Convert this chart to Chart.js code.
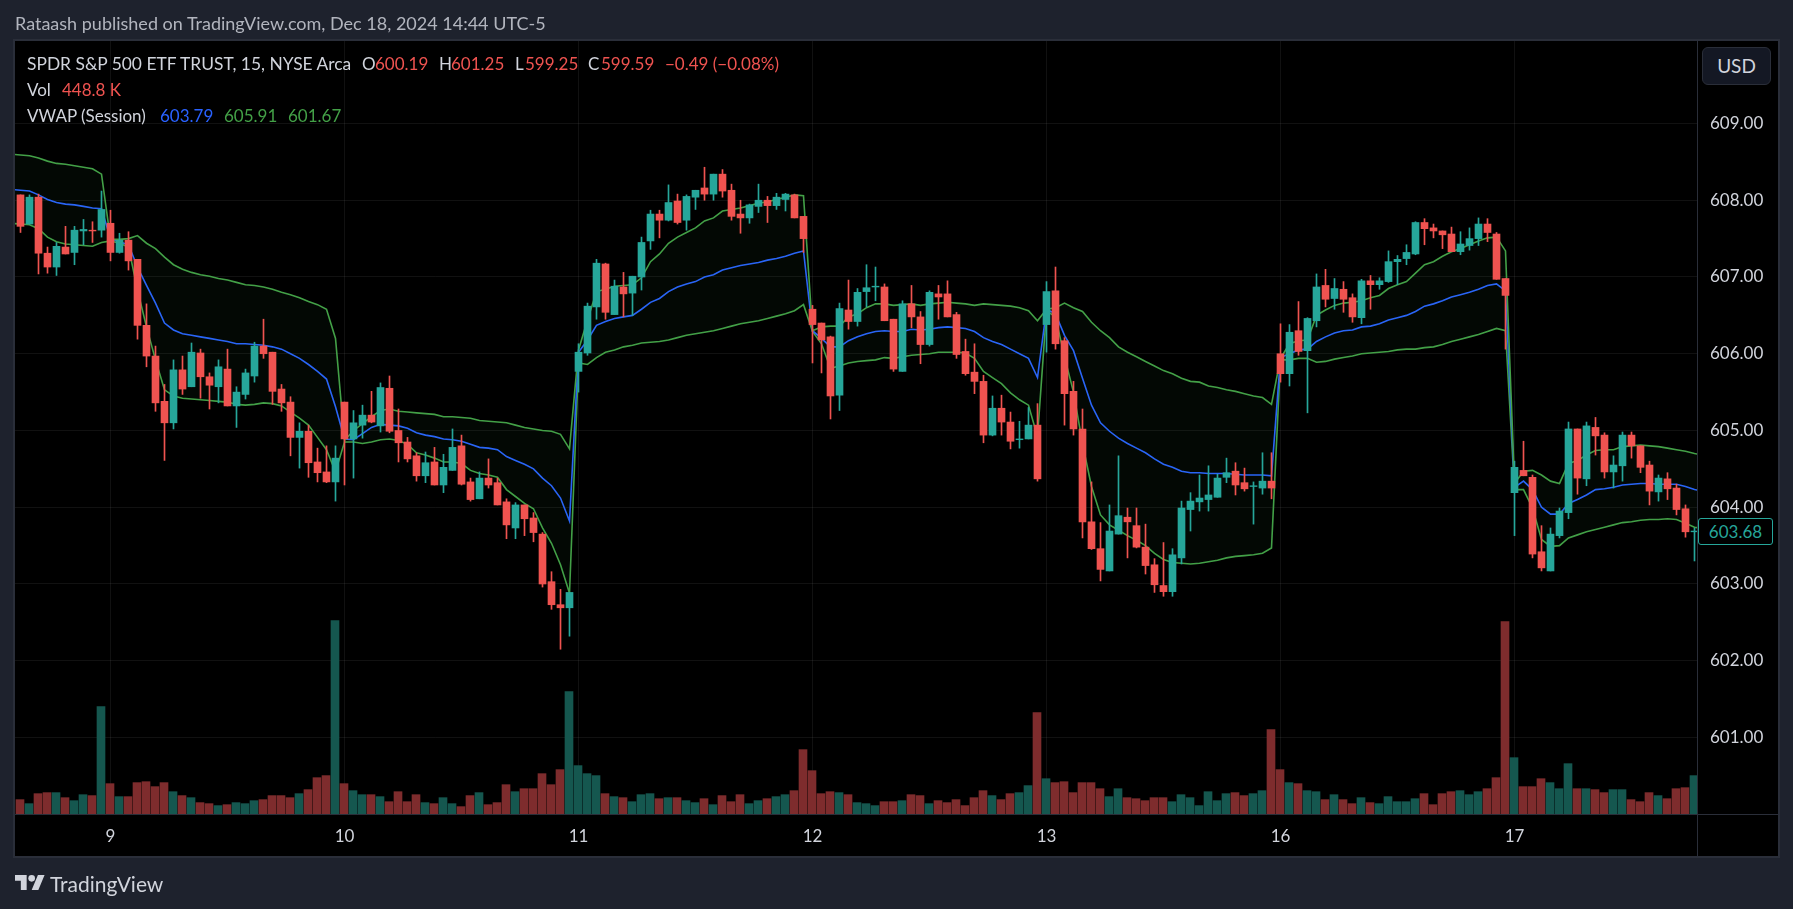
<!DOCTYPE html>
<html>
<head>
<meta charset="utf-8">
<title>SPY 15m</title>
<script src="https://cdn.jsdelivr.net/npm/chart.js@4"></script>
<style>
    html, body { margin: 0; padding: 0; background: #1e222d; overflow: hidden; }
    #wrap { position: relative; width: 1793px; height: 909px; font-family: Lato, sans-serif; color: #d1d4dc; }
    #priceChart { position: absolute; left: 0; top: 0; }
    .t { position: absolute; white-space: pre; font-size: 17px; line-height: 20px; }
    .red { color: #ef5350; }
    .blue { color: #2962ff; }
    .green { color: #43a047; }
    #usd { position: absolute; left: 1702px; top: 47px; width: 67px; height: 36px; line-height: 36px; text-align: center;
        background: #141824; border: 1px solid #2a2e39; border-radius: 6px; font-size: 19px; }
    #last { position: absolute; left: 1698px; top: 518px; width: 73px; height: 25px; line-height: 25px; text-align: center;
        background: #000; border: 1px solid #26a69a; border-radius: 3px; color: #26a69a; font-size: 17px; }
</style>
</head>
<body>
<div id="wrap">
    <canvas id="priceChart" width="1793" height="909"></canvas>

    <div class="t" style="left:15px;top:13px;color:#b2b5be;font-size:18px">Rataash published on TradingView.com, Dec 18, 2024 14:44 UTC-5</div>

    <div class="t" style="left:27px;top:54px;font-size:17.4px">SPDR S&amp;P 500 ETF TRUST, 15, NYSE Arca</div>
    <div class="t" style="left:362px;top:54px">O</div><div class="t red" style="left:375px;top:54px">600.19</div>
    <div class="t" style="left:439px;top:54px">H</div><div class="t red" style="left:451px;top:54px">601.25</div>
    <div class="t" style="left:515px;top:54px">L</div><div class="t red" style="left:525px;top:54px">599.25</div>
    <div class="t" style="left:588px;top:54px">C</div><div class="t red" style="left:601px;top:54px">599.59</div>
    <div class="t red" style="left:665px;top:54px">−0.49 (−0.08%)</div>

    <div class="t" style="left:27px;top:80px">Vol</div>
    <div class="t red" style="left:62px;top:80px">448.8 K</div>

    <div class="t" style="left:27px;top:106px">VWAP (Session)</div>
    <div class="t blue" style="left:160px;top:106px">603.79</div>
    <div class="t green" style="left:224px;top:106px">605.91</div>
    <div class="t green" style="left:288px;top:106px">601.67</div>

    <div id="usd">USD</div>
    <div id="last">603.68</div>

    <svg style="position:absolute;left:15px;top:873px" width="30" height="19" viewBox="0 4 36 18">
        <path fill="#d1d4dc" d="M14 22H7V11H0V4h14v18zM28 22h-8l7.5-18h8L28 22z"/>
        <circle fill="#d1d4dc" cx="20" cy="8" r="4"/>
    </svg>
    <div class="t" style="left:50px;top:872px;font-size:21px;line-height:24px">TradingView</div>
</div>

<script>
// Session starts on the time axis
const dayLabels = ['9', '10', '11', '12', '13', '16', '17'];
const dayStarts = [10, 36, 62, 88, 114, 140, 166];
const priceTicks = [601, 602, 603, 604, 605, 606, 607, 608, 609];

const opens = [
    608.07,607.69,608.04,607.31,607.13,607.39,607.32,607.60,607.61,607.61,
    607.70,607.32,607.48,607.23,606.37,605.97,605.38,605.10,605.79,605.57,
    606.01,605.70,605.57,605.80,605.32,605.47,605.71,606.10,606.02,605.54,
    605.37,604.91,604.99,604.59,604.46,604.33,605.37,604.89,605.07,605.20,
    605.06,605.55,605.00,604.85,604.67,604.41,604.59,604.29,604.48,604.80,
    604.33,604.11,604.38,604.32,604.07,603.73,604.03,603.86,603.65,603.03,
    602.73,602.69,605.77,606.01,606.61,607.17,606.51,606.87,606.79,607.00,
    607.47,607.82,607.74,607.99,607.74,608.04,608.16,608.08,608.34,608.13,
    607.82,607.77,607.92,608.00,607.93,608.01,608.07,607.79,606.58,606.40,
    606.22,605.46,606.57,606.42,606.81,606.87,606.87,606.45,605.77,606.65,
    606.48,606.12,606.78,606.78,606.51,606.03,605.76,605.64,604.94,605.29,
    605.11,604.88,604.89,605.07,606.38,606.82,606.17,605.51,605.02,603.81,
    603.46,603.17,603.65,603.87,603.76,603.48,603.25,602.98,602.90,603.34,
    603.97,604.07,604.10,604.13,604.39,604.47,604.32,604.27,604.25,604.34,
    606.00,605.74,606.30,606.04,606.43,606.89,606.72,606.84,606.73,606.47,
    606.95,606.90,606.94,607.20,607.24,607.30,607.71,607.64,607.60,607.56,
    607.33,607.41,607.50,607.69,607.56,606.98,604.19,604.48,604.39,603.42,
    603.17,603.63,603.93,605.02,604.37,605.04,604.94,604.46,604.54,604.94,
    604.80,604.55,604.20,604.37,604.25,603.98,603.68
];
const highs = [
    608.07,608.07,608.08,607.39,607.45,607.66,607.66,607.75,607.72,608.12,
    607.87,607.57,607.59,607.23,606.65,606.10,605.60,605.92,605.97,606.14,
    606.06,605.75,605.92,606.06,605.57,605.80,606.15,606.45,606.02,605.60,
    605.44,605.10,605.07,604.77,604.80,604.80,605.37,605.26,605.33,605.51,
    605.62,605.71,605.28,604.91,604.71,604.72,604.78,604.69,605.02,604.94,
    604.38,604.46,604.63,604.38,604.11,604.06,604.03,603.93,603.67,603.16,
    602.93,602.89,606.13,606.66,607.23,607.18,606.96,607.06,607.01,607.52,
    607.87,607.87,608.20,608.08,608.07,608.13,608.43,608.34,608.40,608.21,
    608.00,607.95,608.21,608.05,608.09,608.09,608.08,607.79,606.63,606.40,
    606.23,606.66,606.96,606.85,607.16,607.13,606.91,606.45,606.69,606.89,
    606.55,606.82,606.89,606.95,606.54,606.19,606.13,605.72,605.45,605.46,
    605.24,605.12,605.30,605.35,606.94,607.13,606.21,605.64,605.28,604.33,
    603.80,604.03,604.67,603.99,603.99,603.78,603.33,603.54,603.46,604.08,
    604.19,604.42,604.54,604.43,604.64,604.58,604.51,604.33,604.71,604.71,
    606.39,606.38,606.68,606.47,607.04,607.10,606.98,606.94,606.78,606.97,
    607.02,606.99,607.34,607.28,607.42,607.72,607.76,607.69,607.60,607.65,
    607.59,607.64,607.77,607.76,607.58,606.98,604.60,604.86,604.42,603.76,
    603.73,603.99,605.11,605.02,605.11,605.17,604.97,604.67,604.98,604.98,
    604.80,604.60,604.42,604.45,604.30,604.03,603.73
];
const lows = [
    607.58,607.69,607.04,607.05,607.02,607.30,607.16,607.42,607.45,607.52,
    607.21,607.31,607.09,606.19,605.83,605.25,604.61,605.02,605.47,605.57,
    605.42,605.28,605.36,605.32,605.04,605.41,605.63,605.94,605.34,605.25,
    604.67,604.51,604.39,604.33,604.32,604.08,604.29,604.38,604.90,605.10,
    604.98,604.97,604.59,604.59,604.34,604.32,604.29,604.19,604.48,604.29,
    604.08,604.11,604.25,604.03,603.59,603.59,603.63,603.55,602.96,602.67,
    602.15,602.32,605.50,605.98,606.45,606.45,606.51,606.48,606.50,606.83,
    607.36,607.51,607.73,607.69,607.61,607.88,608.00,608.00,608.04,607.74,
    607.57,607.70,607.84,607.71,607.88,607.86,607.77,607.32,605.88,605.75,
    605.15,605.26,606.32,606.36,606.61,606.69,606.43,605.77,605.77,606.34,
    605.87,606.10,606.45,606.48,605.94,605.72,605.48,604.84,604.93,604.94,
    604.76,604.77,604.89,604.34,606.02,606.06,605.07,604.94,603.60,603.45,
    603.04,603.17,603.65,603.34,603.47,603.13,602.89,602.84,602.84,603.26,
    603.69,603.95,603.95,604.13,604.32,604.16,604.21,603.78,604.17,604.11,
    605.63,605.58,605.98,605.23,606.35,606.61,606.58,606.54,606.41,606.39,
    606.58,606.84,606.93,606.90,607.16,607.29,607.42,607.51,607.37,607.33,
    607.29,607.35,607.41,607.46,606.97,606.06,603.63,604.41,603.34,603.17,
    603.17,603.60,603.85,604.17,604.28,604.68,604.38,604.25,604.34,604.64,
    604.45,604.03,604.08,604.10,603.90,603.61,603.30
];
const closes = [
    607.66,608.04,607.31,607.13,607.40,607.30,607.61,607.62,607.60,607.88,
    607.32,607.48,607.21,606.37,605.97,605.36,605.10,605.79,605.54,606.02,
    605.70,605.59,605.83,605.32,605.50,605.75,606.10,606.00,605.51,605.36,
    604.91,604.99,604.58,604.45,604.33,604.64,604.89,605.10,605.20,605.11,
    605.56,604.99,604.84,604.63,604.41,604.58,604.29,604.52,604.78,604.30,
    604.10,604.38,604.29,604.03,603.77,604.03,603.85,603.67,603.00,602.73,
    602.69,602.89,606.02,606.62,607.18,606.54,606.88,606.78,607.01,607.45,
    607.82,607.74,607.97,607.71,608.05,608.13,608.08,608.34,608.12,607.79,
    607.77,607.94,608.00,607.93,608.04,608.08,607.77,607.50,606.38,606.18,
    605.45,606.59,606.42,606.80,606.86,606.88,606.43,605.80,606.65,606.48,
    606.12,606.80,606.74,606.48,605.99,605.74,605.64,604.94,605.29,605.11,
    604.86,604.89,605.07,604.37,606.81,606.13,605.48,605.02,603.81,603.46,
    603.19,603.69,603.89,603.81,603.48,603.24,602.99,602.90,603.38,603.99,
    604.08,604.12,604.16,604.38,604.45,604.29,604.24,604.28,604.34,604.25,
    605.74,606.28,606.03,606.46,606.87,606.71,606.85,606.71,606.48,606.95,
    606.90,606.95,607.20,607.23,607.32,607.71,607.63,607.60,607.55,607.33,
    607.43,607.50,607.69,607.58,606.97,606.76,604.52,604.41,603.39,603.21,
    603.65,603.95,605.02,604.38,605.06,604.93,604.46,604.55,604.94,604.80,
    604.52,604.21,604.38,604.24,603.97,603.68,603.69
];

// Volume in thousands of shares
const volumes = [
    168,121,238,250,250,191,156,226,215,1256,
    355,203,203,367,378,320,367,261,215,191,
    133,121,98,109,133,121,156,168,215,215,
    191,238,285,425,449,2262,355,273,226,226,
    203,144,261,144,226,133,121,191,121,86,
    215,250,109,133,343,261,296,296,472,343,
    519,1431,566,472,449,238,203,191,144,226,
    238,179,191,191,156,133,179,109,215,144,
    226,121,156,179,203,226,273,753,507,238,
    261,250,226,133,121,98,144,144,156,226,
    215,121,156,133,168,98,191,273,215,168,
    238,250,332,1186,413,367,378,250,367,367,
    296,203,296,191,179,156,191,191,144,226,
    191,98,261,156,238,250,215,238,273,987,
    519,367,355,273,261,168,226,168,121,191,
    133,121,203,144,144,179,238,109,238,261,
    273,226,261,296,425,2250,659,320,320,413,
    367,296,589,296,296,285,250,285,285,168,
    144,250,215,179,296,308,449
];

// VWAP (Session) and its two bands, one value per bar
const vwap = [
    608.13,608.12,608.07,608.01,607.97,607.95,607.94,607.92,607.90,607.89,
    607.50,607.46,607.42,607.13,606.89,606.66,606.40,606.31,606.26,606.24,
    606.22,606.20,606.18,606.16,606.13,606.13,606.12,606.11,606.09,606.06,
    606.00,605.94,605.86,605.77,605.67,605.31,604.89,604.88,604.96,605.04,
    605.08,605.07,605.06,605.03,604.97,604.94,604.92,604.89,604.88,604.86,
    604.82,604.78,604.77,604.75,604.66,604.61,604.56,604.50,604.38,604.28,
    604.12,603.82,606.02,606.18,606.37,606.42,606.46,606.48,606.50,606.58,
    606.67,606.72,606.81,606.87,606.91,606.94,607.00,607.03,607.09,607.12,
    607.15,607.17,607.19,607.22,607.24,607.27,607.31,607.34,606.30,606.20,
    606.09,606.09,606.17,606.22,606.26,606.29,606.30,606.29,606.29,606.32,
    606.31,606.32,606.34,606.35,606.34,606.33,606.29,606.21,606.16,606.12,
    606.06,606.00,605.94,605.69,606.58,606.52,606.24,606.04,605.68,605.33,
    605.10,604.99,604.90,604.83,604.77,604.71,604.63,604.56,604.52,604.47,
    604.45,604.45,604.44,604.44,604.44,604.43,604.42,604.42,604.42,604.41,
    605.95,606.00,606.05,606.06,606.16,606.22,606.27,606.30,606.31,606.35,
    606.36,606.39,606.44,606.47,606.50,606.55,606.62,606.65,606.69,606.74,
    606.77,606.80,606.84,606.89,606.91,606.82,604.26,604.34,604.23,604.00,
    603.91,603.91,604.05,604.10,604.16,604.23,604.24,604.26,604.29,604.30,
    604.31,604.31,604.30,604.30,604.30,604.27,604.23
];
const upperBand = [
    608.59,608.58,608.55,608.51,608.48,608.47,608.45,608.43,608.41,608.34,
    607.49,607.49,607.50,607.54,607.44,607.37,607.26,607.16,607.10,607.06,
    607.03,607.01,606.98,606.96,606.93,606.90,606.89,606.87,606.84,606.80,
    606.77,606.73,606.68,606.64,606.58,606.20,604.87,605.00,605.09,605.18,
    605.26,605.28,605.25,605.24,605.23,605.22,605.21,605.18,605.18,605.17,
    605.16,605.13,605.12,605.11,605.10,605.07,605.04,605.02,605.00,604.99,
    604.95,604.76,606.05,606.44,606.81,606.84,606.88,606.89,606.90,606.99,
    607.20,607.30,607.44,607.52,607.58,607.64,607.73,607.77,607.86,607.88,
    607.90,607.93,607.96,607.98,608.01,608.04,608.07,608.06,606.30,606.35,
    606.36,606.36,606.48,606.52,606.60,606.65,606.65,606.63,606.64,606.65,
    606.63,606.65,606.66,606.67,606.66,606.65,606.63,606.65,606.64,606.63,
    606.62,606.60,606.56,606.43,606.58,606.60,606.66,606.60,606.55,606.41,
    606.30,606.21,606.09,606.02,605.96,605.90,605.84,605.78,605.74,605.68,
    605.64,605.63,605.58,605.56,605.53,605.51,605.48,605.45,605.43,605.34,
    605.94,606.13,606.17,606.18,606.50,606.57,606.63,606.66,606.67,606.69,
    606.73,606.76,606.85,606.90,606.94,607.05,607.16,607.20,607.27,607.33,
    607.37,607.42,607.47,607.51,607.52,607.34,604.31,604.47,604.48,604.42,
    604.34,604.31,604.57,604.61,604.68,604.74,604.75,604.75,604.79,604.80,
    604.81,604.80,604.79,604.77,604.75,604.73,604.70
];
const lowerBand = [
    607.69,607.68,607.63,607.52,607.46,607.43,607.42,607.41,607.40,607.45,
    607.47,607.44,607.39,606.83,606.35,605.92,605.53,605.45,605.42,605.41,
    605.40,605.39,605.38,605.37,605.34,605.33,605.34,605.36,605.35,605.32,
    605.24,605.16,605.07,604.91,604.75,604.46,604.85,604.85,604.83,604.85,
    604.88,604.89,604.87,604.82,604.71,604.68,604.64,604.59,604.59,604.57,
    604.48,604.44,604.42,604.39,604.23,604.14,604.05,603.98,603.73,603.53,
    603.25,602.88,605.88,605.86,605.95,606.02,606.05,606.09,606.11,606.14,
    606.15,606.16,606.18,606.21,606.24,606.26,606.28,606.30,606.33,606.36,
    606.39,606.41,606.43,606.46,606.49,606.52,606.56,606.64,606.29,606.13,
    605.81,605.84,605.88,605.90,605.91,605.92,605.95,605.94,605.96,605.98,
    605.99,606.00,606.02,606.02,606.02,606.01,605.94,605.77,605.69,605.61,
    605.49,605.40,605.33,604.92,606.56,606.48,605.96,605.50,604.83,604.27,
    603.90,603.77,603.70,603.63,603.57,603.50,603.40,603.32,603.28,603.27,
    603.26,603.27,603.29,603.31,603.34,603.36,603.37,603.38,603.40,603.47,
    605.92,605.92,605.94,605.94,605.89,605.90,605.93,605.95,605.97,606.00,
    606.01,606.02,606.03,606.05,606.06,606.06,606.08,606.09,606.12,606.16,
    606.19,606.22,606.25,606.29,606.33,606.30,604.23,604.23,603.99,603.58,
    603.49,603.50,603.60,603.64,603.68,603.71,603.74,603.77,603.80,603.81,
    603.83,603.84,603.84,603.85,603.84,603.79,603.74
];

// Where each line meets the pane edges: the bar before the first and after the last
const vwapEnds = [608.14, 604.21];
const upperEnds = [608.60, 604.68];
const lowerEnds = [607.70, 603.72];

const UP = '#26a69a';
const DOWN = '#ef5350';
const UP_VOL = '#15574f';
const DOWN_VOL = '#7e2c2d';
const GRID = 'rgba(242,242,242,0.07)';
const AXIS = '#2a2e39';

const isUp = opens.map((o, i) => closes[i] >= o);
const bodyColors = isUp.map(u => u ? UP : DOWN);
const volColors = isUp.map(u => u ? UP_VOL : DOWN_VOL);

function series(values) {
    return values.map((v, i) => ({ x: i, y: v }));
}

function lineSeries(values, ends) {
    return [{ x: -1, y: ends[0] }, ...series(values), { x: values.length, y: ends[1] }];
}

// Dark page, black pane and the price / time axis separators
const panePlugin = {
    id: 'pane',
    beforeDraw(chart) {
        const c = chart.ctx;
        c.save();
        c.fillStyle = '#1e222d';
        c.fillRect(0, 0, 1793, 909);
        c.fillStyle = '#000';
        c.fillRect(15, 41, 1763, 815);
        c.strokeStyle = AXIS;
        c.lineWidth = 2;
        c.strokeRect(14, 40, 1765, 817);
        c.lineWidth = 1;
        c.beginPath();
        c.moveTo(15, 814.5);
        c.lineTo(1778, 814.5);
        c.moveTo(1697.5, 41);
        c.lineTo(1697.5, 856);
        c.stroke();
        c.restore();
    }
};

const xMin = -0.6111;
const xMax = 186.2778;

new Chart(document.getElementById('priceChart'), {
    type: 'bar',
    plugins: [panePlugin],
    data: {
        datasets: [
            {
                label: 'Body',
                data: opens.map((o, i) => ({ x: i, y: [o, closes[i]] })),
                backgroundColor: bodyColors,
                barThickness: 7,
                grouped: false,
                order: 0
            },
            {
                label: 'Wick',
                data: lows.map((l, i) => ({ x: i, y: [l, highs[i]] })),
                backgroundColor: bodyColors,
                barThickness: 1,
                grouped: false,
                order: 1
            },
            {
                type: 'line',
                label: 'Upper',
                data: lineSeries(upperBand, upperEnds),
                borderColor: '#43a047',
                borderWidth: 1.6,
                pointRadius: 0,
                fill: { target: '+1' },
                backgroundColor: 'rgba(67,160,71,0.05)',
                order: 2
            },
            {
                type: 'line',
                label: 'Lower',
                data: lineSeries(lowerBand, lowerEnds),
                borderColor: '#43a047',
                borderWidth: 1.6,
                pointRadius: 0,
                fill: false,
                order: 3
            },
            {
                type: 'line',
                label: 'VWAP',
                data: lineSeries(vwap, vwapEnds),
                borderColor: '#2962ff',
                borderWidth: 1.6,
                pointRadius: 0,
                fill: false,
                order: 2
            },
            {
                label: 'Vol',
                data: series(volumes),
                backgroundColor: volColors,
                barThickness: 8,
                grouped: false,
                xAxisID: 'xVol',
                yAxisID: 'yVol',
                order: 5
            }
        ]
    },
    options: {
        responsive: false,
        animation: false,
        layout: { padding: { left: 15, top: 41, right: 15, bottom: 53 } },
        plugins: { legend: { display: false }, tooltip: { enabled: false } },
        elements: { bar: { borderWidth: 0, borderSkipped: false } },
        scales: {
            x: {
                type: 'linear',
                offset: false,
                min: xMin,
                max: xMax,
                afterBuildTicks: axis => { axis.ticks = dayStarts.map(v => ({ value: v })); },
                afterFit: axis => { axis.height = 42; },
                ticks: {
                    callback: v => dayLabels[dayStarts.indexOf(v)],
                    autoSkip: false,
                    maxRotation: 0,
                    color: '#d1d4dc',
                    font: { family: 'Lato', size: 17 },
                    padding: 12
                },
                grid: { color: GRID, tickLength: 0, offset: false },
                border: { color: AXIS }
            },
            // Same spacing, half a pixel to the left, so the 8px volume bars sit on whole pixels
            xVol: {
                type: 'linear',
                display: false,
                offset: false,
                min: xMin + 0.5 / 9,
                max: xMax + 0.5 / 9
            },
            y: {
                position: 'right',
                min: 600.003,
                max: 610.075,
                afterBuildTicks: axis => { axis.ticks = priceTicks.map(v => ({ value: v })); },
                afterFit: axis => { axis.width = 81; },
                ticks: {
                    callback: v => v.toFixed(2),
                    padding: 13,
                    color: '#d1d4dc',
                    font: { family: 'Lato', size: 17 }
                },
                grid: { color: GRID, tickLength: 0 },
                border: { color: AXIS }
            },
            yVol: {
                display: false,
                min: 0,
                max: 9044
            }
        }
    }
});
</script>
</body>
</html>
